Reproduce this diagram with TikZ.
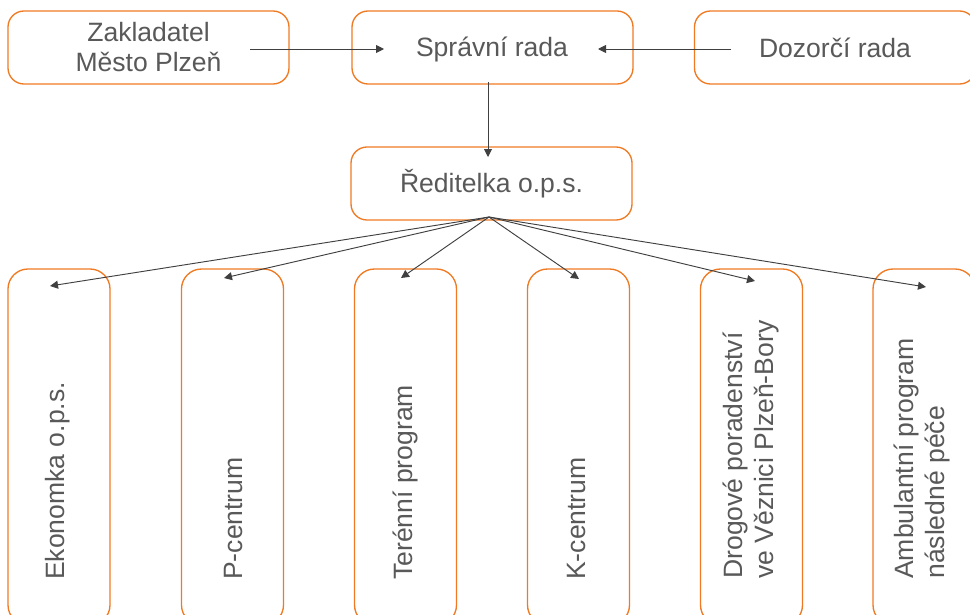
\documentclass[tikz,border=0pt]{standalone}
\usepackage{fontspec}
\setmainfont{Liberation Sans}
\usetikzlibrary{arrows.meta}
\definecolor{boxorange}{HTML}{F07A22}
\definecolor{txtgray}{HTML}{595959}
\definecolor{linegray}{HTML}{404040}
\tikzset{
  topbox/.style={draw=boxorange, line width=1pt, rounded corners=12pt, fill=white,
    minimum width=210.75pt, minimum height=54.75pt, inner sep=0pt,
    text=txtgray, align=center, font=\fontsize{19.9pt}{22.5pt}\selectfont},
  colbox/.style={draw=boxorange, line width=1pt, rounded corners=15pt, fill=white,
    minimum width=76.5pt, minimum height=267pt, inner sep=0pt},
  vtext/.style={rotate=90, anchor=west, inner sep=0pt, text=txtgray, align=left,
    font=\fontsize{19.9pt}{23pt}\selectfont},
  conn/.style={draw=linegray, line width=0.7pt, -{Triangle[length=6pt,width=6pt]}}
}
\begin{document}
\begin{tikzpicture}[x=0.75pt,y=-0.75pt]
\useasboundingbox (0,0) rectangle (970,614);
\fill[white] (0,0) rectangle (970,614);
% top row
\node[topbox] (zak) at (148.5,47.5) {Zakladatel\\Město Plzeň};
\node[topbox] (spr) at (492.5,47.5) {};
\node[anchor=center, text=txtgray, font=\fontsize{19.9pt}{22.5pt}\selectfont, inner sep=0pt] (sprt) at (492,49) {Správní rada};
\node[topbox] (doz) at (835,47.5) {Dozorčí rada};
% director
\node[topbox] (red) at (491.5,183.5) {Ředitelka o.p.s.};
% columns
\node[colbox] (c1) at (59,447) {};
\node[colbox] (c2) at (232.5,447) {};
\node[colbox] (c3) at (405.5,447) {};
\node[colbox] (c4) at (578.5,447) {};
\node[colbox] (c5) at (751.5,447) {};
\node[colbox] (c6) at (924,447) {};
\node[vtext] (t1) at (58,580) {Ekonomka o.p.s.};
\node[vtext] (t2) at (233,580) {P-centrum};
\node[vtext] (t3) at (405,580) {Terénní program};
\node[vtext] (t4) at (576,580) {K-centrum};
\node[vtext] (t5) at (751,579) {Drogové poradenství\\ve Věznici Plzeň-Bory};
\node[vtext] (t6) at (922,579) {Ambulantní program\\následné péče};
% connector end points
\coordinate (zakout) at (250,49);
\coordinate (sprinl) at (384,49);
\coordinate (dozout) at (731,49);
\coordinate (sprinr) at (598,49);
\coordinate (sprout) at (488,82);
\coordinate (redin) at (488,157);
\coordinate (hub) at (489,217);
\coordinate (e1) at (50,286);
\coordinate (e2) at (224,278);
\coordinate (e3) at (401,278);
\coordinate (e4) at (579,279);
\coordinate (e5) at (755,281);
\coordinate (e6) at (926,287);
% connectors
\draw[conn] (zakout) -- (sprinl);
\draw[conn] (dozout) -- (sprinr);
\draw[conn] (sprout) -- (redin);
\foreach \e in {e1,e2,e3,e4,e5,e6} \draw[conn] (hub) -- (\e);
\end{tikzpicture}
\end{document}
